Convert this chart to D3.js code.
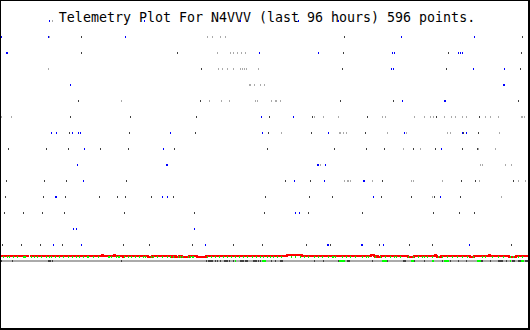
<!doctype html>
<html>
<head>
<style>
  body { margin: 0; background: #fff; }
  svg { display: block; }
  rect { shape-rendering: crispEdges; }
</style>
<script src="https://d3js.org/d3.v7.min.js"></script>
</head>
<body>
<svg width="530" height="330"></svg>
<script>
// time slots across the 96 hours (one slot ~ 11 minutes), rows = channel level 0..14
var rowDark = [
  [2, 21, 40, 62, 123, 149, 192, 233, 262, 306, 330, 379, 409, 432, 511],
  [],
  [4, 23, 42, 64, 124, 194, 264, 308, 362, 433, 459, 474],
  [5, 43, 65, 99, 117, 125, 151, 173, 265, 309, 332, 381, 411, 434, 460],
  [6, 44, 66, 126, 285, 310, 382, 461, 475, 513],
  [],
  [8, 46, 68, 100, 128, 174, 267, 334, 366, 384, 413, 435, 462, 477],
  [69, 129, 195, 268, 311, 365, 463, 478],
  [70, 130, 196, 269, 312, 367, 436, 479],
  [78, 200, 340, 393, 518],
  [],
  [201, 342, 446, 520],
  [81, 177, 343, 448, 521],
  [81, 344, 522],
  []
];
var rowGray = [
  [],
  [],
  [],
  [432, 501],
  [344, 347, 348, 350, 372, 411, 413, 442, 479, 518, 525],
  [320, 480, 482, 505, 511, 528],
  [403, 420, 478, 495],
  [281, 339, 340, 343, 346, 387, 406, 447, 450, 499],
  [1, 11, 314, 323, 338, 382, 385, 414, 424, 430, 433, 444, 451, 455, 462, 466, 485, 490, 498, 521, 522, 524],
  [121, 209, 221, 229, 255, 257, 271, 275, 276, 280],
  [249, 250, 254, 260, 264],
  [48, 218, 222, 227, 233, 240, 242, 244, 246, 258],
  [217, 230, 233, 237, 241, 245],
  [49, 207, 212, 220, 225],
  [52, 211, 213]
];
var rowBlue = [
  [53, 81, 205, 327, 328, 361, 362, 383, 469],
  [73, 76, 194],
  [295, 299],
  [55, 56, 162, 167, 373, 440],
  [83, 294, 324, 363, 364],
  [77, 166, 167, 317, 318, 325],
  [84, 163, 441],
  [51, 56, 72, 78, 80, 170, 262, 328, 404, 462, 466],
  [261, 293],
  [402, 444, 445],
  [70, 503, 504],
  [391, 393, 473, 504],
  [6, 7, 259, 318, 392, 394, 458, 460, 462],
  [1, 48, 125, 401, 474],
  [49, 144, 240, 298, 338]
];

// lower trace: step changes [slot, level], null = no data
var redSteps = [
  [1, 0], [29, 0], [29.5, null], [30, 0], [102, 1], [103, 0], [114, 1], [115, 0], [123, -1], [124, 0],
  [148, -1], [152, 0], [172, -1], [174, 0], [176, -1], [179, 0], [182, -1], [189, 0],
  [197, -1], [206, 0], [287, 1], [302, 0], [371, 1], [374, 0], [375, -1], [376, 0],
  [378, -1], [381, 0], [408, -1], [414, 0], [435, 1], [436, 0], [437, -1], [441, 0],
  [470, -1], [474, 0], [489, 1], [490, 0], [509, -1], [516, 0], [529, 0]
];
var greenMarks = [3, 7, 9, 13, 17, 23, 24, 25, 31, 34, 37, 41, 46, 49, 51, 55, 59, 63, 68, 72,
  76, 79, 83, 87, 88, 93, 98, 108, 109, 111, 116, 118, 119, 124, 128, 131, 135, 139, 143, 145,
  151, 153, 157, 162, 167, 170, 173, 178, 180, 182, 188, 190, 192, 193, 207, 211, 215, 219,
  223, 227, 231, 235, 239, 243, 247, 252, 256, 260, 263, 267, 270, 273, 277, 281, 291, 295,
  300, 304, 308, 314, 318, 322, 328, 332, 333, 335, 342, 346, 350, 355, 362, 366, 368, 375,
  380, 385, 390, 394, 396, 400, 408, 413, 418, 422, 424, 427, 432, 438, 442, 447, 452, 457,
  462, 467, 473, 482, 485, 492, 498, 503, 510, 513, 518, 522, 528];
var bandDark = [1, 12, 48, 49, 50, 52, 121, 206, 208, 209, 210, 211, 212, 215, 217, 220, 224,
  225, 226, 227, 229, 233, 240, 241, 242, 243, 245, 246, 247, 253, 254, 255, 256, 258, 260,
  271, 275, 280, 281, 282, 314, 323, 338, 347, 348, 349, 372, 387, 403, 404, 405, 414, 424,
  442, 450, 458, 466, 478, 481, 482, 490, 498, 499, 500, 501, 502, 506, 512, 513, 514, 518,
  519, 520, 525, 526, 527, 528];
var bandGreen = [235, 262, 263, 264, 265, 339, 340, 341, 342, 343, 344, 382, 383, 384, 385,
  386, 411, 412, 413, 432, 433, 444, 445, 446, 447, 448, 477, 478, 479, 480, 510, 521, 522, 523];

var titleText = "Telemetry Plot For N4VVV (last 96 hours) 596 points.";

var svg = d3.select("svg");

var x = d3.scaleLinear().domain([0, 530]).range([0, 530]);
var y = d3.scaleLinear().domain([0, 14]).range([244, 20]);
var yRed = d3.scaleLinear().domain([-1, 1]).range([257, 255]);

svg.append("rect")
   .attr("width", 530).attr("height", 330)
   .attr("fill", "#fff");

function dots(rows, color) {
    var pts = [];
    rows.forEach(function(r, i) {
        r.forEach(function(v) { pts.push({ t: v, lvl: i }); });
    });
    svg.append("g").selectAll("rect")
       .data(pts)
       .enter().append("rect")
       .attr("x", function(d) { return x(d.t); })
       .attr("y", function(d) { return y(d.lvl); })
       .attr("width", 1)
       .attr("height", 2)
       .attr("fill", color);
}
dots(rowGray, "#aaaaaa");
dots(rowDark, "#404040");
dots(rowBlue, "#0000ff");

// bottom band
svg.append("rect")
   .attr("x", x(1)).attr("y", 260)
   .attr("width", x(529) - x(1)).attr("height", 2)
   .attr("fill", "#aaaaaa");
svg.append("g").selectAll("rect")
   .data(bandDark)
   .enter().append("rect")
   .attr("x", function(d) { return x(d); })
   .attr("y", 260).attr("width", 1).attr("height", 2)
   .attr("fill", "#404040");
svg.append("g").selectAll("rect")
   .data(bandGreen)
   .enter().append("rect")
   .attr("x", function(d) { return x(d); })
   .attr("y", 260).attr("width", 1).attr("height", 2)
   .attr("fill", "#00ff00");

// red trace
var redLine = d3.line()
    .defined(function(d) { return d[1] !== null; })
    .x(function(d) { return x(d[0]); })
    .y(function(d) { return yRed(d[1]); })
    .curve(d3.curveStepAfter);
svg.append("path")
   .attr("d", redLine(redSteps))
   .attr("fill", "none")
   .attr("stroke", "#ff0000")
   .attr("stroke-width", 2)
   .attr("shape-rendering", "crispEdges");

svg.append("g").selectAll("rect")
   .data(greenMarks)
   .enter().append("rect")
   .attr("x", function(d) { return x(d); })
   .attr("y", 256).attr("width", 1).attr("height", 2)
   .attr("fill", "#00ff00");

// title
svg.append("text")
   .attr("x", 267)
   .attr("y", 22)
   .attr("text-anchor", "middle")
   .attr("font-family", "DejaVu Sans Mono, monospace")
   .attr("font-size", "13.3px")
   .attr("fill", "#000")
   .text(titleText);

// frame
svg.append("rect").attr("x", 0).attr("y", 0).attr("width", 530).attr("height", 1).attr("fill", "#000");
svg.append("rect").attr("x", 0).attr("y", 0).attr("width", 1).attr("height", 330).attr("fill", "#000");
svg.append("rect").attr("x", 528).attr("y", 0).attr("width", 2).attr("height", 330).attr("fill", "#000");
svg.append("rect").attr("x", 0).attr("y", 328).attr("width", 530).attr("height", 2).attr("fill", "#000");
</script>
</body>
</html>
